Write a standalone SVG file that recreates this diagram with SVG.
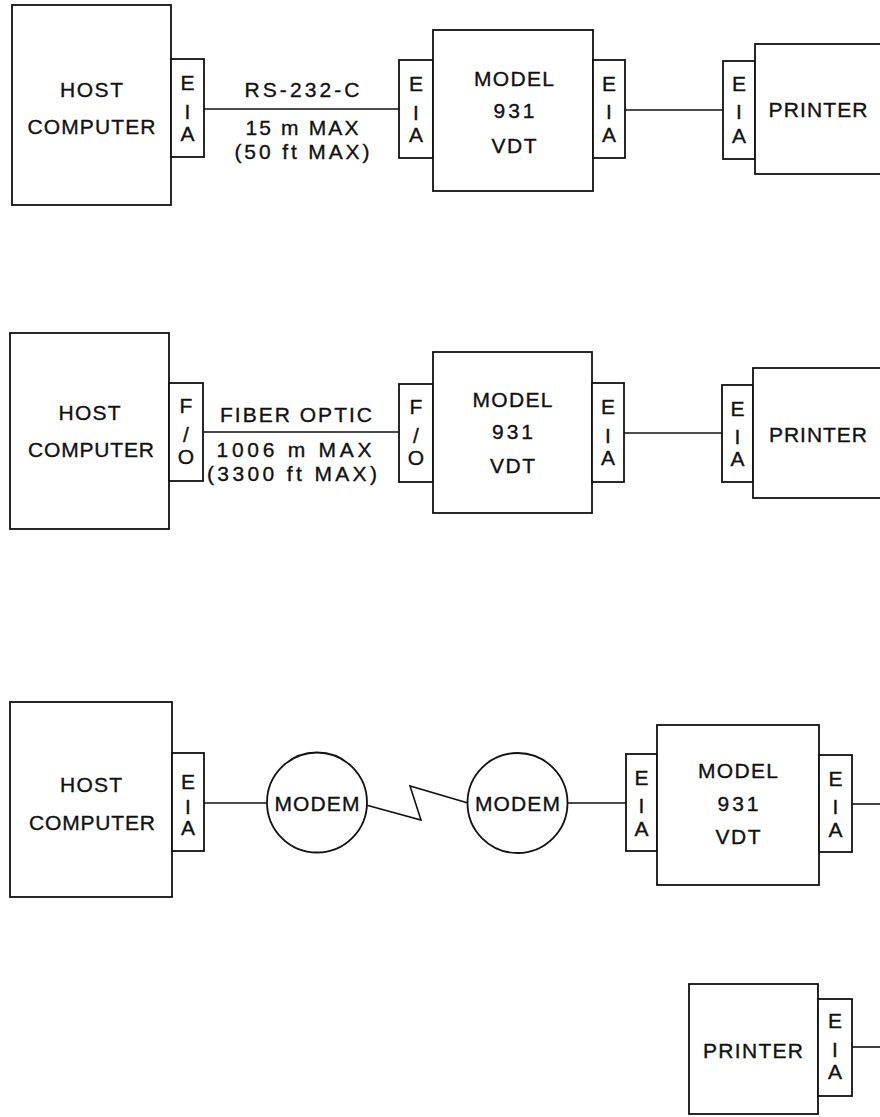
<svg xmlns="http://www.w3.org/2000/svg" width="880" height="1117" viewBox="0 0 880 1117">
<style>
rect,circle{fill:#fff;stroke:#111;stroke-width:1.8}
.c line,.c polyline{stroke:#111;stroke-width:1.6;fill:none}
text{font-family:"Liberation Sans",Arial,sans-serif;font-size:21px;fill:#111;stroke:#111;stroke-width:0.35;text-anchor:middle}
</style>
<rect width="880" height="1117" style="fill:#fff;stroke:none"/>
<g class="c" id="connectors">
<line x1="204" y1="109" x2="399" y2="109"/>
<line x1="625" y1="110" x2="723" y2="110"/>
<line x1="203" y1="432" x2="399" y2="432"/>
<line x1="624" y1="433" x2="722" y2="433"/>
<line x1="204" y1="803" x2="267" y2="803"/>
<polyline points="366,805 421,820 410,786 468,803"/>
<line x1="567" y1="803" x2="626" y2="803"/>
<line x1="852" y1="804" x2="880" y2="804"/>
<line x1="852" y1="1047" x2="880" y2="1047"/>
</g>
<g id="labels">
<text x="302" y="97" textLength="115" lengthAdjust="spacing">RS-232-C</text>
<text x="302" y="135" textLength="113" lengthAdjust="spacing">15 m MAX</text>
<text x="302" y="159" textLength="135" lengthAdjust="spacing">(50 ft MAX)</text>
<text x="296" y="422" textLength="152" lengthAdjust="spacing">FIBER OPTIC</text>
<text x="294" y="457" textLength="155" lengthAdjust="spacing">1006 m MAX</text>
<text x="292" y="481" textLength="170" lengthAdjust="spacing">(3300 ft MAX)</text>
</g>
<!-- Row 1 -->
<g id="host1">
<rect x="12" y="5" width="159" height="200"/>
<text x="91.5" y="97" textLength="63" lengthAdjust="spacing">HOST</text>
<text x="91.5" y="134" textLength="128" lengthAdjust="spacing">COMPUTER</text>
</g>
<g id="eia1a">
<rect x="171" y="59" width="33" height="98"/>
<text x="187.5" y="90">E</text><text x="187.5" y="119">I</text><text x="187.5" y="141">A</text>
</g>
<g id="eia1b">
<rect x="399" y="60" width="34" height="98"/>
<text x="416" y="91">E</text><text x="416" y="120">I</text><text x="416" y="142">A</text>
</g>
<g id="vdt1">
<rect x="433" y="30" width="160" height="161"/>
<text x="514" y="86" textLength="80" lengthAdjust="spacing">MODEL</text>
<text x="514" y="118" textLength="41" lengthAdjust="spacing">931</text>
<text x="514" y="153" textLength="45" lengthAdjust="spacing">VDT</text>
</g>
<g id="eia1c">
<rect x="593" y="60" width="32" height="98"/>
<text x="609" y="91">E</text><text x="609" y="119">I</text><text x="609" y="142">A</text>
</g>
<g id="eia1d">
<rect x="723" y="61" width="32" height="98"/>
<text x="739" y="91">E</text><text x="739" y="119">I</text><text x="739" y="143">A</text>
</g>
<g id="printer1">
<rect x="755" y="44" width="135" height="130"/>
<text x="818" y="117" textLength="99" lengthAdjust="spacing">PRINTER</text>
</g>
<!-- Row 2 -->
<g id="host2">
<rect x="10" y="333" width="159" height="196"/>
<text x="89.5" y="420" textLength="62" lengthAdjust="spacing">HOST</text>
<text x="91" y="457" textLength="126" lengthAdjust="spacing">COMPUTER</text>
</g>
<g id="fo2a">
<rect x="169" y="383" width="34" height="98"/>
<text x="186" y="413">F</text><text x="186" y="442">/</text><text x="186" y="464">O</text>
</g>
<g id="fo2b">
<rect x="399" y="384" width="34" height="98"/>
<text x="416" y="414">F</text><text x="416" y="443">/</text><text x="416" y="465">O</text>
</g>
<g id="vdt2">
<rect x="433" y="352" width="159" height="161"/>
<text x="512.5" y="407" textLength="80" lengthAdjust="spacing">MODEL</text>
<text x="512.5" y="439" textLength="41" lengthAdjust="spacing">931</text>
<text x="512.5" y="473" textLength="45" lengthAdjust="spacing">VDT</text>
</g>
<g id="eia2c">
<rect x="592" y="383" width="32" height="99"/>
<text x="608" y="414">E</text><text x="608" y="443">I</text><text x="608" y="465">A</text>
</g>
<g id="eia2d">
<rect x="722" y="385" width="31" height="97"/>
<text x="737.5" y="416">E</text><text x="737.5" y="444">I</text><text x="737.5" y="466">A</text>
</g>
<g id="printer2">
<rect x="753" y="368" width="137" height="130"/>
<text x="818" y="442" textLength="98" lengthAdjust="spacing">PRINTER</text>
</g>
<!-- Row 3 -->
<g id="host3">
<rect x="10" y="702" width="162" height="195"/>
<text x="91" y="792" textLength="62" lengthAdjust="spacing">HOST</text>
<text x="92" y="830" textLength="126" lengthAdjust="spacing">COMPUTER</text>
</g>
<g id="eia3a">
<rect x="172" y="753" width="32" height="98"/>
<text x="188" y="789">E</text><text x="188" y="814">I</text><text x="188" y="835">A</text>
</g>
<g id="modem1">
<circle cx="317" cy="802.5" r="50"/>
<text x="317" y="811" textLength="85" lengthAdjust="spacing">MODEM</text>
</g>
<g id="modem2">
<circle cx="517.5" cy="803" r="50"/>
<text x="517.5" y="811" textLength="85" lengthAdjust="spacing">MODEM</text>
</g>
<g id="eia3b">
<rect x="626" y="754" width="31" height="97"/>
<text x="641.5" y="785">E</text><text x="641.5" y="813">I</text><text x="641.5" y="836">A</text>
</g>
<g id="vdt3">
<rect x="657" y="725" width="162" height="160"/>
<text x="738" y="778" textLength="80" lengthAdjust="spacing">MODEL</text>
<text x="738" y="811" textLength="41" lengthAdjust="spacing">931</text>
<text x="738" y="844" textLength="45" lengthAdjust="spacing">VDT</text>
</g>
<g id="eia3c">
<rect x="819" y="755" width="33" height="97"/>
<text x="835.5" y="786">E</text><text x="835.5" y="814">I</text><text x="835.5" y="837">A</text>
</g>
<!-- Row 4 -->
<g id="printer4">
<rect x="689" y="984" width="129" height="130"/>
<text x="753" y="1058" textLength="100" lengthAdjust="spacing">PRINTER</text>
</g>
<g id="eia4">
<rect x="818" y="999" width="34" height="97"/>
<text x="835" y="1028">E</text><text x="835" y="1057">I</text><text x="835" y="1079">A</text>
</g>
</svg>
